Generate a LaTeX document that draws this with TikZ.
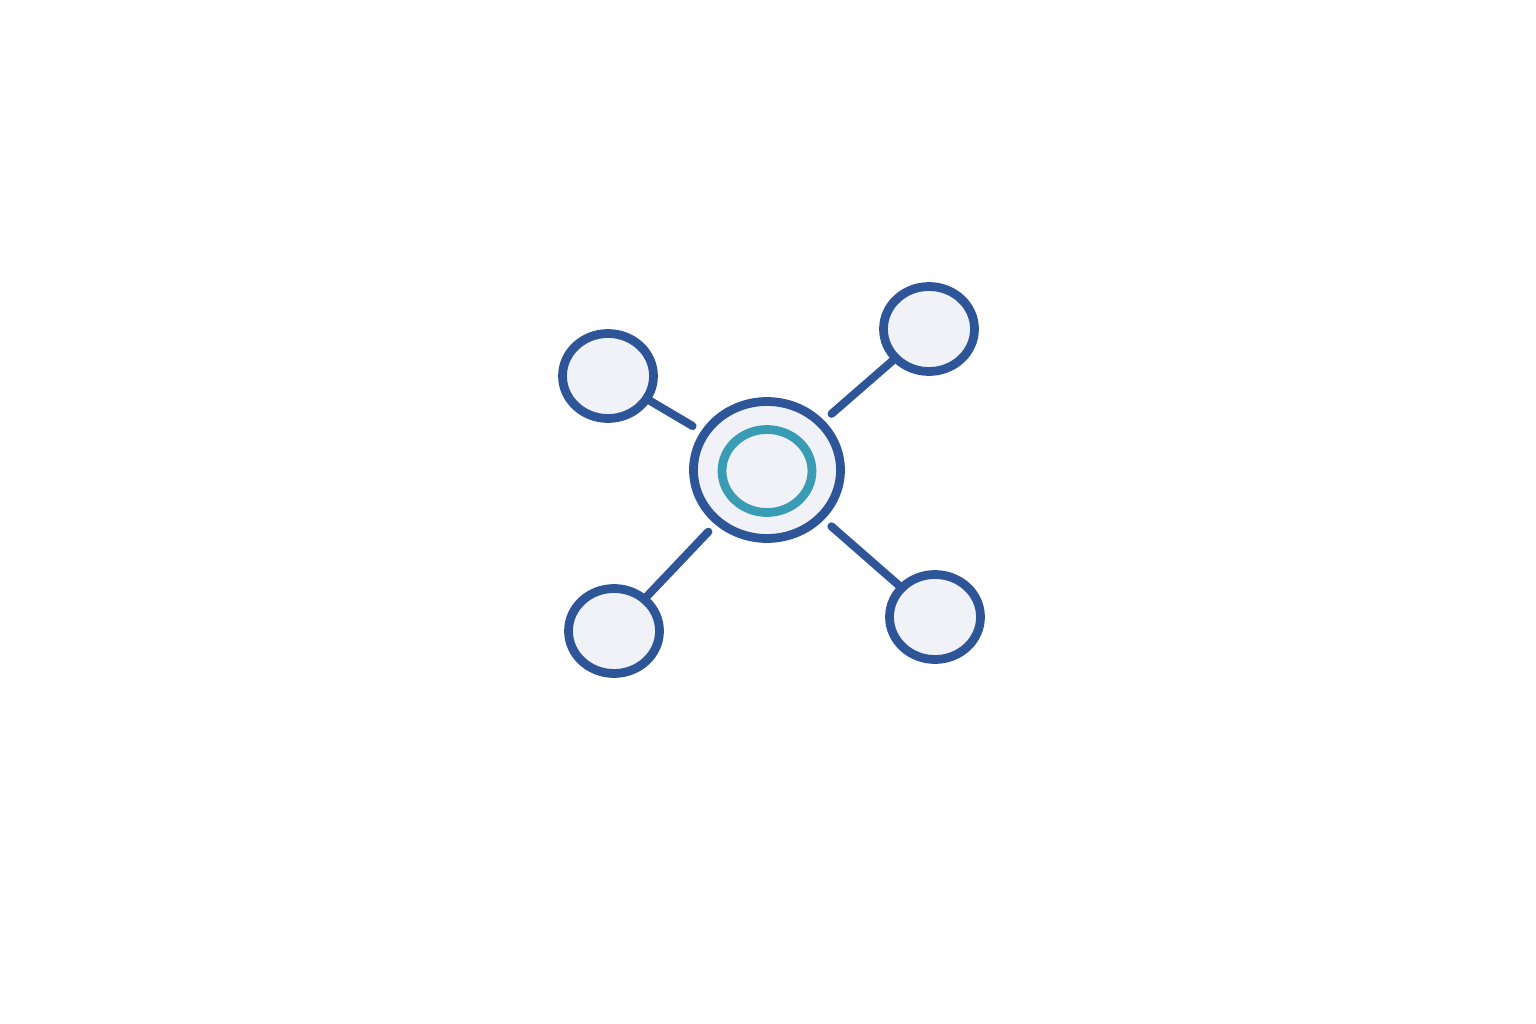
\documentclass[tikz,border=0pt]{standalone}
\usetikzlibrary{shapes.geometric}
\definecolor{hubblue}{HTML}{2E5598}
\definecolor{hubteal}{HTML}{3A9BB4}
\definecolor{hubfill}{HTML}{F0F2F7}
\begin{document}
\begin{tikzpicture}[x=0.02cm,y=-0.02cm,
  leaf/.style={ellipse,draw=hubblue,fill=hubfill,line width=5pt,
    minimum width=1.82cm,minimum height=1.7cm,inner sep=0pt},
  link/.style={draw=hubblue,line width=4.6pt,line cap=round,shorten >=0.2cm}]
\useasboundingbox(0,0)rectangle(1536,1024);
\node[ellipse,draw=hubblue,fill=hubfill,line width=5pt,minimum width=2.94cm,
  minimum height=2.74cm,inner sep=0pt](hub)at(767,470){};
\node[ellipse,draw=hubteal,line width=5pt,minimum width=1.8cm,
  minimum height=1.66cm,inner sep=0pt](core)at(767,471){};
\node[leaf](tl)at(608,376){};
\node[leaf](tr)at(929,329){};
\node[leaf](bl)at(614,631){};
\node[leaf](br)at(935,617){};
\draw[link](tl)--(hub);
\draw[link](tr)--(hub);
\draw[link](bl)--(hub);
\draw[link](br)--(hub);
\end{tikzpicture}
\end{document}
